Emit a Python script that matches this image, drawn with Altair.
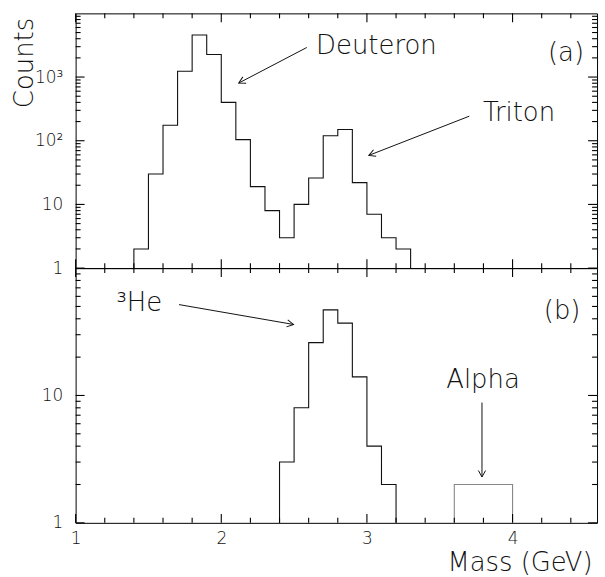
import altair as alt
import pandas as pd

# ---------------- data ----------------
# Panel (a): deuteron + triton mass histogram, 0.1 GeV bins (lower edges)
a_bin_low = [1.4, 1.5, 1.6, 1.7, 1.8, 1.9, 2.0, 2.1, 2.2, 2.3,
             2.4, 2.5, 2.6, 2.7, 2.8, 2.9, 3.0, 3.1, 3.2]
a_counts = [2, 30, 175, 1230, 4570, 2260, 400, 104, 19, 8,
            3, 10, 26, 120, 150, 22, 7, 3, 2]
a_last_edge = 3.3

# Panel (b): 3He and alpha
he_bin_low = [2.4, 2.5, 2.6, 2.7, 2.8, 2.9, 3.0, 3.1]
he_counts = [3, 8, 26, 47, 37, 14, 4, 2]
he_last_edge = 3.2

alpha_bin_low = [3.6, 3.7, 3.8, 3.9]
alpha_counts = [2, 2, 2, 2]
alpha_last_edge = 4.0

# annotations (data coordinates)
a_text = ["Deuteron", "Triton", "(a)"]
a_text_mass = [3.065, 4.044, 4.367]
a_text_counts = [2290, 207, 1810]

b_text = ["\u00b3He", "(b)", "Alpha"]
b_text_mass = [1.437, 4.340, 3.797]
b_text_counts = [46, 40, 11.5]

a_arrow_from_mass = [2.587, 3.703]
a_arrow_from_counts = [2911, 243]
a_arrow_to_mass = [2.120, 3.013]
a_arrow_to_counts = [805, 58.9]
a_arrow_angle = [152.4, 158.7]

b_arrow_from_mass = [1.710, 3.79]
b_arrow_from_counts = [51.7, 8.8]
b_arrow_to_mass = [2.496, 3.79]
b_arrow_to_counts = [36.1, 2.29]
b_arrow_angle = [9.9, 90]

x_minor_ticks = [1.2, 1.4, 1.6, 1.8, 2.2, 2.4, 2.6, 2.8,
                 3.2, 3.4, 3.6, 3.8, 4.2, 4.4]
x_major_ticks = [1.0, 2.0, 3.0, 4.0]

# ---------------- helpers ----------------
FONT = "DejaVu Sans"
WEIGHT = 200
INK = "#111"
W, H = 524, 256
XDOM = [1, 4.58]
MINOR, MAJOR = 5, 9


def step_frame(lows, counts, last, kind, seg):
    xs_ = [lows[0]] + list(lows) + [last]
    ys_ = [1] + list(counts) + [1]
    return pd.DataFrame({"mass": xs_, "counts": ys_,
                         "order": list(range(len(xs_))),
                         "kind": kind, "seg": seg})


def log_minor(maxexp):
    return [k * 10 ** d for d in range(maxexp) for k in range(2, 10)]


def log_major(maxexp):
    return [10 ** d for d in range(maxexp + 1)]


def tick_segments(ydom, xvals, yvals, size, prefix):
    """Two-point segments for inward tick marks on the four frame edges
    (pixel lengths converted to the panel's scale units)."""
    dx = size * (XDOM[1] - XDOM[0]) / W
    ylo, yhi = ydom
    ratio = (yhi / ylo) ** (size / H)
    segs = []
    for v in xvals:
        segs.append(((v, ylo), (v, ylo * ratio)))          # bottom edge
        segs.append(((v, yhi), (v, yhi / ratio)))          # top edge
    for v in yvals:
        segs.append(((XDOM[0], v), (XDOM[0] + dx, v)))     # left edge
        segs.append(((XDOM[1] - dx, v), (XDOM[1], v)))     # right edge
    rows = []
    for i, (p0, p1) in enumerate(segs):
        rows.append((p0[0], p0[1], 0, "tick", f"{prefix}{i}"))
        rows.append((p1[0], p1[1], 1, "tick", f"{prefix}{i}"))
    return pd.DataFrame(rows, columns=["mass", "counts", "order", "kind", "seg"])


def xs(field="mass:Q", **kw):
    return alt.X(field, scale=alt.Scale(domain=XDOM, nice=False, zero=False), **kw)


def ys(ydom, field="counts:Q", **kw):
    return alt.Y(field, scale=alt.Scale(type="log", domain=ydom, nice=False), **kw)


def panel(step_df, ydom, yminor, ymajor, ylabel_expr, text_df, arrow_df,
          bottom_labels, left_title):
    left_kwargs = dict(orient="left", values=ymajor, labelExpr=ylabel_expr, ticks=False,
                       domain=False, grid=False, labelPadding=13, labelOverlap=False,
                       labelColor=INK, labelFont=FONT, labelFontSize=17,
                       labelFontWeight=WEIGHT)
    if left_title:
        left_kwargs.update(title="Counts", titleAngle=270, titleX=-43, titleY=4,
                           titleAlign="right", titleBaseline="alphabetic",
                           titleColor=INK, titleFont=FONT, titleFontSize=26,
                           titleFontWeight=WEIGHT)
    else:
        left_kwargs.update(title="")

    if bottom_labels:
        bottom_axis = alt.Axis(orient="bottom", values=x_major_ticks, ticks=False,
                               domain=False, grid=False, labelPadding=8,
                               labelFlush=False, labelOverlap=False, format="d",
                               labelColor=INK, labelFont=FONT, labelFontSize=17,
                               labelFontWeight=WEIGHT,
                               title="Mass (GeV)", titleX=519, titleY=48,
                               titleAlign="right", titleBaseline="alphabetic",
                               titleColor=INK, titleFont=FONT, titleFontSize=26,
                               titleFontWeight=WEIGHT)
    else:
        bottom_axis = alt.Axis(orient="bottom", labels=False, ticks=False, domain=False,
                               grid=False, title="")

    line_df = pd.concat([step_df,
                         tick_segments(ydom, x_minor_ticks, yminor, MINOR, "m"),
                         tick_segments(ydom, x_major_ticks, ymajor, MAJOR, "M")],
                        ignore_index=True)

    lines = alt.Chart(line_df).mark_line(interpolate="step-after", strokeWidth=1.1).encode(
        x=xs(axis=bottom_axis),
        y=ys(ydom, axis=alt.Axis(**left_kwargs)),
        order="order:Q",
        detail="seg:N",
        color=alt.Color("kind:N", scale=alt.Scale(domain=["main", "alpha", "tick"],
                                                   range=["#111", "#888", "#000"]),
                        legend=None),
    )

    text = alt.Chart(text_df).mark_text(font=FONT, fontSize=26, fontWeight=WEIGHT,
                                         color=INK, align="center",
                                         baseline="alphabetic").encode(
        x=xs(), y=ys(ydom), text="label:N")
    rules = alt.Chart(arrow_df).mark_rule(color=INK, strokeWidth=1).encode(
        x=xs(), y=ys(ydom), x2="mass2:Q", y2="counts2:Q")
    heads = alt.Chart(arrow_df).mark_point(
        shape="M -1 -0.55 L 0 0 L -1 0.55", size=170, filled=False,
        color=INK, strokeWidth=1, opacity=1).encode(
        x=xs("mass2:Q"),
        y=ys(ydom, "counts2:Q"),
        angle=alt.Angle("angle:Q", scale=None),
    )
    return alt.layer(lines, text, rules, heads).properties(width=W, height=H)


# ---------------- panel (a) ----------------
step_a = step_frame(a_bin_low, a_counts, a_last_edge, "main", "h_a")
text_a = pd.DataFrame({"label": a_text, "mass": a_text_mass, "counts": a_text_counts})
arrow_a = pd.DataFrame({"mass": a_arrow_from_mass, "counts": a_arrow_from_counts,
                        "mass2": a_arrow_to_mass, "counts2": a_arrow_to_counts,
                        "angle": a_arrow_angle})
top = panel(
    step_a, [1, 10000], log_minor(4), log_major(3),
    "datum.value == 1 ? '1' : datum.value == 10 ? '10' : datum.value == 100 ? '10\u00b2' : '10\u00b3'",
    text_a, arrow_a, False, True,
)

# ---------------- panel (b) ----------------
step_b = pd.concat([step_frame(he_bin_low, he_counts, he_last_edge, "main", "h_he"),
                    step_frame(alpha_bin_low, alpha_counts, alpha_last_edge, "alpha", "h_al")],
                   ignore_index=True)
text_b = pd.DataFrame({"label": b_text, "mass": b_text_mass, "counts": b_text_counts})
arrow_b = pd.DataFrame({"mass": b_arrow_from_mass, "counts": b_arrow_from_counts,
                        "mass2": b_arrow_to_mass, "counts2": b_arrow_to_counts,
                        "angle": b_arrow_angle})
bottom = panel(
    step_b, [1, 100], log_minor(2), log_major(1),
    "datum.value == 1 ? '1' : '10'",
    text_b, arrow_b, True, False,
)

chart = alt.vconcat(top, bottom, spacing=0, bounds="flush").resolve_scale(
    x="independent", y="independent"
).properties(
    padding={"left": 11, "top": 9, "right": 5, "bottom": 0},
    background="white",
).configure_view(
    stroke="black", strokeWidth=1
)

chart.save("out.html", embed_options={"renderer": "svg", "actions": False})
